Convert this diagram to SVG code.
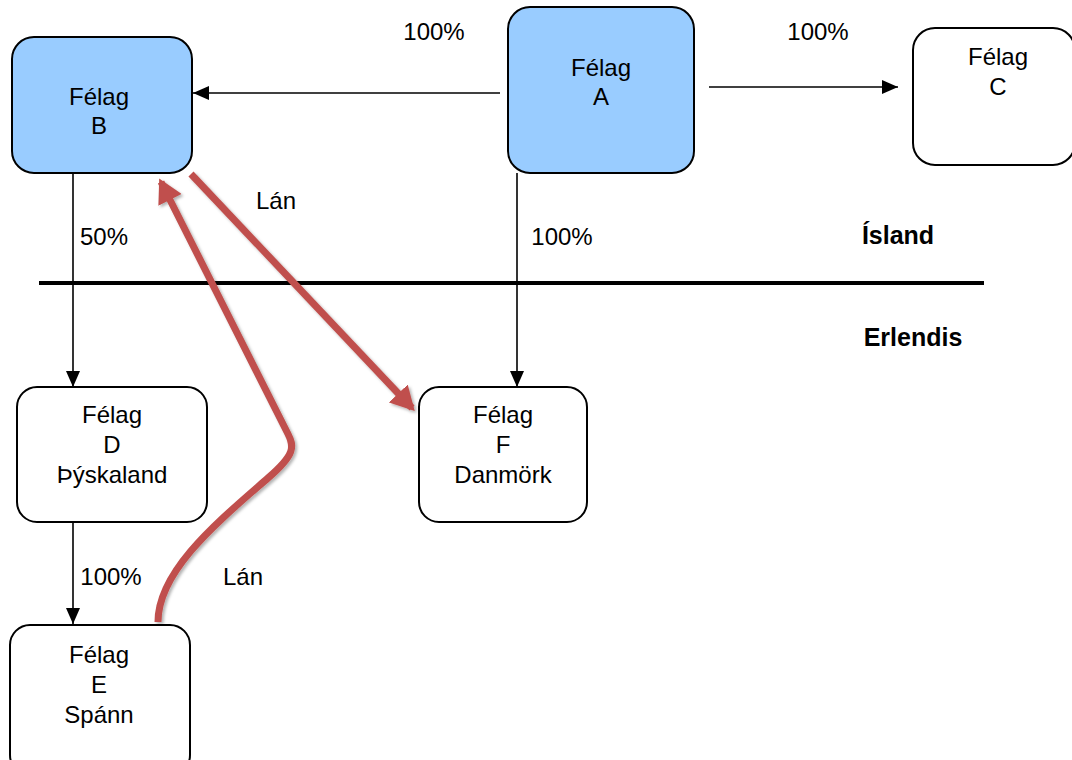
<svg xmlns="http://www.w3.org/2000/svg" width="1072" height="760" viewBox="0 0 1072 760">
<style>
.box{stroke:#000;stroke-width:2;fill:#fff}
.blue{fill:#99CCFF}
text{font-family:"Liberation Sans",Arial,sans-serif;font-size:24px;fill:#000;text-anchor:middle}
.b{font-weight:bold;font-size:25px}
.con{stroke:#000;stroke-width:1.6;fill:none}
.red{stroke:#C0504D;stroke-width:7;fill:none;filter:url(#sh)}
</style>
<defs>
<marker id="ah" markerUnits="userSpaceOnUse" markerWidth="16" markerHeight="14" refX="16" refY="7" orient="auto">
<path d="M0,0 L16,7 L0,14 Z" fill="#000"/>
</marker>
<marker id="rh" markerUnits="userSpaceOnUse" markerWidth="26" markerHeight="26" refX="20" refY="13" orient="auto">
<path d="M0,0 L24,13 L0,26 Z" fill="#C0504D"/>
</marker>
<filter id="sh" x="-20%" y="-20%" width="140%" height="140%">
<feDropShadow dx="2" dy="2" stdDeviation="1.5" flood-color="#000" flood-opacity="0.3"/>
</filter>
</defs>
<g id="connectors">
<line class="con" x1="500" y1="93" x2="193" y2="93" marker-end="url(#ah)"/>
<line class="con" x1="709" y1="87" x2="898" y2="87" marker-end="url(#ah)"/>
<line class="con" x1="73" y1="173" x2="73" y2="387" marker-end="url(#ah)"/>
<line class="con" x1="517" y1="173" x2="517" y2="387" marker-end="url(#ah)"/>
<line class="con" x1="73" y1="522" x2="73" y2="624" marker-end="url(#ah)"/>
<line x1="39" y1="283" x2="984" y2="283" stroke="#000" stroke-width="4"/>
<line class="red" x1="191" y1="174" x2="412" y2="408" marker-end="url(#rh)"/>
<path class="red" d="M158,622 C158,570 220,520 268,478 C296,454 294,446 288,434 L161,182" marker-end="url(#rh)"/>
</g>
<g id="nodeB"><rect class="box blue" x="12" y="37" width="180" height="136" rx="22"/><text x="99" y="105">Félag</text><text x="99" y="134">B</text></g>
<g id="nodeA"><rect class="box blue" x="508" y="7" width="186" height="166" rx="22"/><text x="601" y="76">Félag</text><text x="601" y="105">A</text></g>
<g id="nodeC"><rect class="box" x="913" y="28" width="162" height="137" rx="22"/><text x="998" y="65">Félag</text><text x="998" y="95">C</text></g>
<g id="nodeD"><rect class="box" x="17" y="387" width="190" height="135" rx="20"/><text x="112" y="423">Félag</text><text x="112" y="453">D</text><text x="112" y="483">Þýskaland</text></g>
<g id="nodeF"><rect class="box" x="419" y="387" width="168" height="135" rx="20"/><text x="503" y="423">Félag</text><text x="503" y="453">F</text><text x="503" y="483">Danmörk</text></g>
<g id="nodeE"><rect class="box" x="10" y="625" width="180" height="150" rx="20"/><text x="99" y="663">Félag</text><text x="99" y="693">E</text><text x="99" y="723">Spánn</text></g>
<g id="labels">
<text x="434" y="40">100%</text>
<text x="818" y="40">100%</text>
<text x="276" y="209">Lán</text>
<text x="104" y="245">50%</text>
<text x="562" y="245">100%</text>
<text class="b" x="898" y="244">Ísland</text>
<text class="b" x="913" y="346">Erlendis</text>
<text x="111" y="585">100%</text>
<text x="243" y="585">Lán</text>
</g>
</svg>
